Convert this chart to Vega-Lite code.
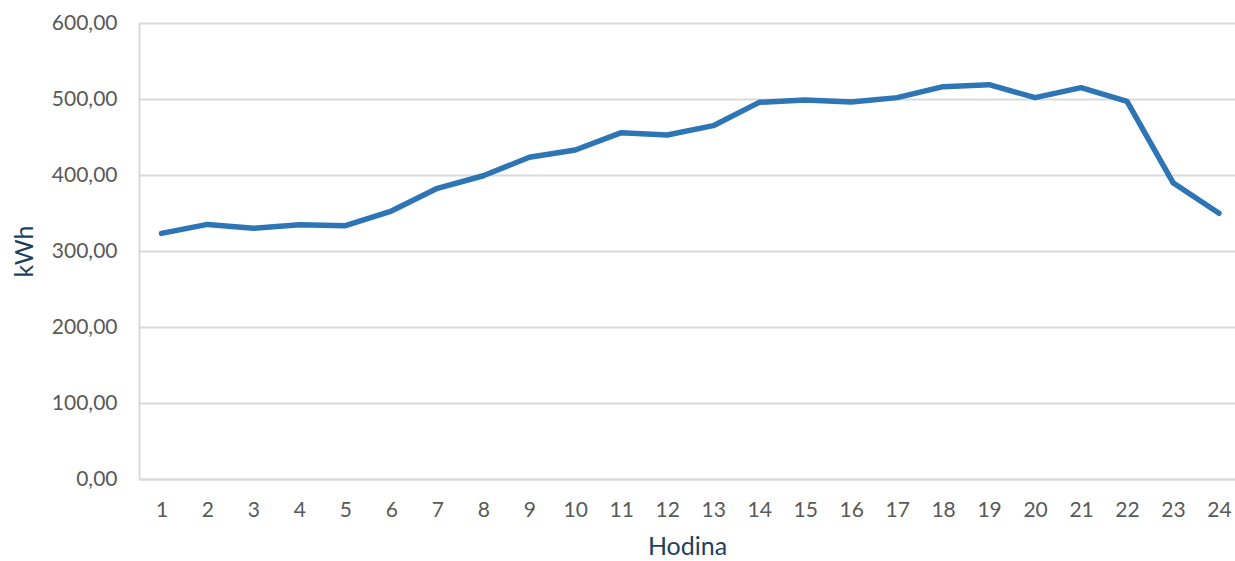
{
  "$schema": "https://vega.github.io/schema/vega-lite/v6.json",
  "width": 1096,
  "height": 456,
  "autosize": {"type": "none"},
  "padding": {"left": 139, "top": 23, "right": 0, "bottom": 82},
  "background": "white",
  "config": {
    "locale": {"number": {"decimal": ",", "thousands": " ", "grouping": [3], "currency": ["", " Kč"]}},
    "view": {"stroke": null},
    "font": "Lato"
  },
  "data": {
    "values": [
      {"hodina": 1, "kwh": 323.2},
      {"hodina": 2, "kwh": 335.0},
      {"hodina": 3, "kwh": 330.0},
      {"hodina": 4, "kwh": 334.6},
      {"hodina": 5, "kwh": 333.3},
      {"hodina": 6, "kwh": 352.6},
      {"hodina": 7, "kwh": 382.5},
      {"hodina": 8, "kwh": 399.0},
      {"hodina": 9, "kwh": 423.3},
      {"hodina": 10, "kwh": 432.9},
      {"hodina": 11, "kwh": 455.7},
      {"hodina": 12, "kwh": 452.6},
      {"hodina": 13, "kwh": 464.9},
      {"hodina": 14, "kwh": 495.6},
      {"hodina": 15, "kwh": 498.7},
      {"hodina": 16, "kwh": 496.0},
      {"hodina": 17, "kwh": 501.8},
      {"hodina": 18, "kwh": 516.2},
      {"hodina": 19, "kwh": 518.9},
      {"hodina": 20, "kwh": 501.8},
      {"hodina": 21, "kwh": 514.9},
      {"hodina": 22, "kwh": 497.0},
      {"hodina": 23, "kwh": 389.9},
      {"hodina": 24, "kwh": 349.6}
    ]
  },
  "mark": {"type": "line", "color": "#2E75B6", "strokeWidth": 5.5, "strokeCap": "round", "strokeJoin": "round"},
  "encoding": {
    "x": {
      "field": "hodina",
      "type": "quantitative",
      "scale": {"domain": [0.511, 24.348], "nice": false, "zero": false},
      "axis": {
        "title": "Hodina",
        "titleFont": "Lato",
        "titleFontSize": 25,
        "titleFontWeight": "normal",
        "titleColor": "#1F3F5F",
        "titlePadding": 14,
        "values": [1, 2, 3, 4, 5, 6, 7, 8, 9, 10, 11, 12, 13, 14, 15, 16, 17, 18, 19, 20, 21, 22, 23, 24],
        "format": "d",
        "labelAngle": 0,
        "labelFont": "Lato",
        "labelFontSize": 21,
        "labelColor": "#595959",
        "labelPadding": 20,
        "labelOverlap": false,
        "labelFlush": false,
        "ticks": false,
        "domain": true,
        "domainColor": "#D9D9D9",
        "domainWidth": 2,
        "grid": false
      }
    },
    "y": {
      "field": "kwh",
      "type": "quantitative",
      "scale": {"domain": [0, 600], "nice": false},
      "axis": {
        "title": "kWh",
        "titleFont": "Lato",
        "titleFontSize": 25,
        "titleFontWeight": "normal",
        "titleColor": "#1F3F5F",
        "titlePadding": 14,
        "values": [0, 100, 200, 300, 400, 500, 600],
        "format": ".2f",
        "labelFont": "Lato",
        "labelFontSize": 21,
        "labelColor": "#595959",
        "labelPadding": 22,
        "labelFlush": false,
        "ticks": false,
        "domain": true,
        "domainColor": "#D9D9D9",
        "domainWidth": 2,
        "grid": true,
        "gridColor": "#D9D9D9",
        "gridWidth": 2
      }
    }
  }
}
